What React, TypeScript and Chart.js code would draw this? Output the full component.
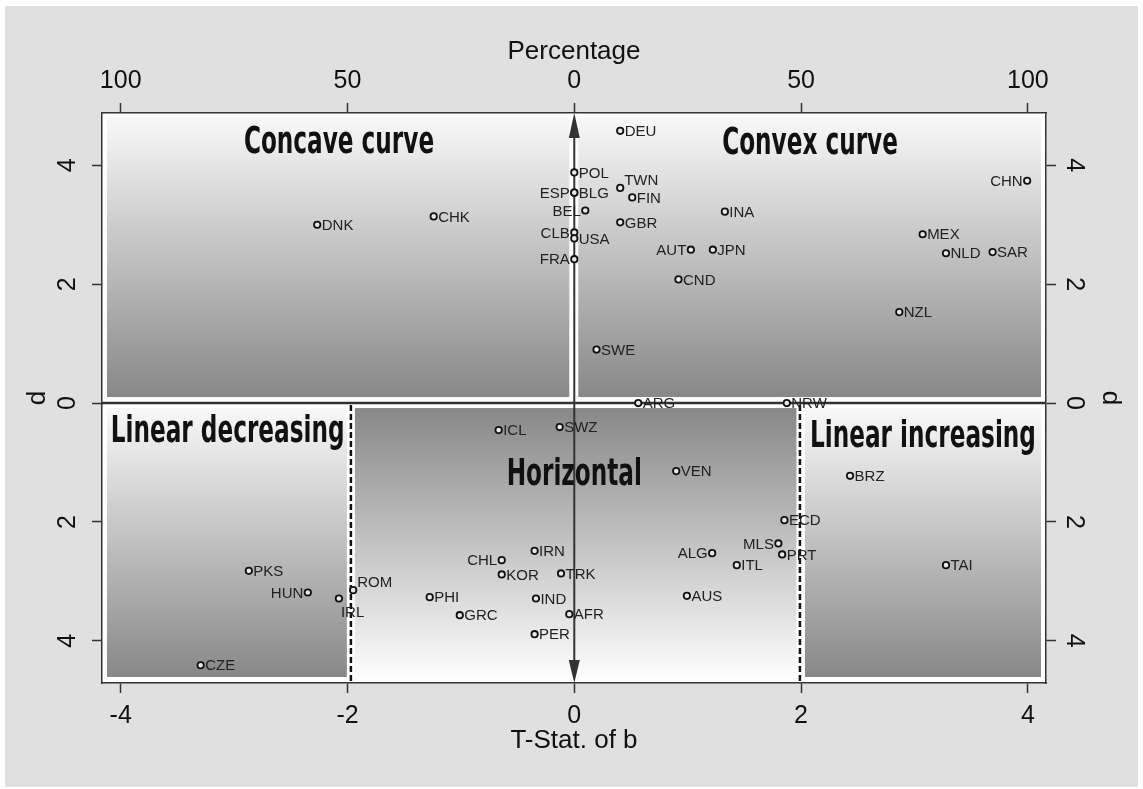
import React, { useEffect, useRef } from 'react';
import { Chart, registerables } from 'chart.js';

Chart.register(...registerables);

// ---------------- DATA ----------------
const countries = [
  'DEU', 'POL', 'ESP', 'BLG', 'TWN', 'FIN', 'BEL', 'GBR', 'INA', 'DNK',
  'CHK', 'CLB', 'USA', 'FRA', 'AUT', 'JPN', 'CND', 'SWE', 'CHN', 'MEX',
  'NLD', 'SAR', 'NZL', 'ARG', 'NRW', 'ICL', 'SWZ', 'VEN', 'BRZ', 'ECD',
  'MLS', 'ALG', 'PRT', 'ITL', 'TAI', 'IRN', 'CHL', 'KOR', 'TRK', 'PKS',
  'ROM', 'HUN', 'IRL', 'PHI', 'IND', 'GRC', 'AFR', 'AUS', 'PER', 'CZE',
];
const tStat = [
  0.405, 0.0, 0.0, 0.0, 0.405, 0.511, 0.097, 0.405, 1.328, -2.267,
  -1.24, 0.0, 0.0, 0.0, 1.028, 1.222, 0.919, 0.196, 3.994, 3.072,
  3.278, 3.689, 2.866, 0.564, 1.874, -0.667, -0.129, 0.899, 2.432, 1.853,
  1.8, 1.216, 1.833, 1.433, 3.278, -0.35, -0.64, -0.64, -0.117, -2.87,
  -1.95, -2.35, -2.076, -1.275, -0.338, -1.01, -0.044, 0.993, -0.35, -3.295,
];
const dValue = [
  4.58, 3.88, 3.54, 3.54, 3.62, 3.46, 3.24, 3.04, 3.22, 3.0,
  3.14, 2.87, 2.77, 2.42, 2.58, 2.58, 2.08, 0.9, 3.74, 2.84,
  2.52, 2.54, 1.53, 0.0, 0.0, -0.455, -0.404, -1.145, -1.224, -1.97,
  -2.362, -2.525, -2.547, -2.727, -2.727, -2.487, -2.643, -2.884, -2.867, -2.823,
  -3.148, -3.187, -3.288, -3.266, -3.288, -3.569, -3.552, -3.244, -3.889, -4.411,
];

const xTicks = [-4, -2, 0, 2, 4];
const bottomTickLabels = ['-4', '-2', '0', '2', '4'];
const topTickLabels = ['100', '50', '0', '50', '100'];
const yTicks = [-4, -2, 0, 2, 4];
const yTickLabels = ['4', '2', '0', '2', '4'];

const xRange = [-4.165, 4.16];
const yRange = [-4.71, 4.88];

// thresholds (dashed lines)
const dashedX = [-1.97, 1.99];

const regionTitles = ['Concave curve', 'Convex curve', 'Linear decreasing', 'Horizontal', 'Linear increasing'];
const regionTitleX = [-2.075, 2.079, -3.057, 0.0, 3.075];
const regionTitleY = [4.21, 4.19, -0.657, -1.38, -0.736];

// label placement (default: right of point)
const labelSide: Record<string, string> = {
  ESP: 'left', BEL: 'left', CLB: 'left', FRA: 'left', AUT: 'left', CHN: 'left',
  HUN: 'left', ALG: 'left', MLS: 'left', CHL: 'left',
  TWN: 'upRight', ROM: 'upRight', IRL: 'below',
};

const FONT = "'Liberation Sans', Arial, sans-serif";
const TITLE_FONT = "'DejaVu Sans', sans-serif";

const decorPlugin = {
  id: 'decor',
  beforeDraw(chart: any) {
    const ctx = chart.ctx;
    const a = chart.chartArea;
    ctx.save();
    ctx.fillStyle = '#e0e0e0';
    ctx.fillRect(5, 6, 1133, 781);
    ctx.fillStyle = '#ffffff';
    ctx.fillRect(a.left, a.top, a.right - a.left, a.bottom - a.top);
    ctx.restore();
  },
  beforeDatasetsDraw(chart: any) {
    const ctx = chart.ctx;
    const a = chart.chartArea;
    const xs = chart.scales.x;
    const ys = chart.scales.y;
    const x0 = xs.getPixelForValue(0);
    const y0 = ys.getPixelForValue(0);
    const xl = xs.getPixelForValue(dashedX[0]);
    const xr = xs.getPixelForValue(dashedX[1]);
    const top = a.top + 4;
    const bottom = a.bottom - 6;
    const left = a.left + 5;
    const right = a.right - 5;
    ctx.save();
    const rect = (l: number, t: number, r: number, b: number, c1: string, c2: string) => {
      const g = ctx.createLinearGradient(0, t, 0, b);
      g.addColorStop(0, c1);
      g.addColorStop(1, c2);
      ctx.fillStyle = g;
      ctx.fillRect(l, t, r - l, b - t);
    };
    const light = '#f8f8f8';
    const dark = '#888888';
    rect(left, top, x0 - 5, y0 - 6, light, dark);
    rect(x0 + 4, top, right, y0 - 6, light, dark);
    rect(left, y0 + 5, xl - 4, bottom, light, dark);
    rect(xl + 4, y0 + 5, xr - 3.5, a.bottom - 1, dark, '#ffffff');
    rect(xr + 5, y0 + 5, right, bottom, light, dark);

    // horizontal zero line
    ctx.strokeStyle = '#333333';
    ctx.lineWidth = 2.5;
    ctx.beginPath();
    ctx.moveTo(a.left, y0);
    ctx.lineTo(a.right, y0);
    ctx.stroke();

    // dashed threshold lines
    ctx.strokeStyle = '#111111';
    ctx.lineWidth = 2.5;
    ctx.setLineDash([6, 3]);
    for (const dx of dashedX) {
      const px = xs.getPixelForValue(dx);
      ctx.beginPath();
      ctx.moveTo(px, y0 + 2);
      ctx.lineTo(px, a.bottom);
      ctx.stroke();
    }
    ctx.setLineDash([]);

    // vertical double arrow
    ctx.strokeStyle = '#333333';
    ctx.fillStyle = '#333333';
    ctx.lineWidth = 2;
    ctx.beginPath();
    ctx.moveTo(x0, a.top + 20);
    ctx.lineTo(x0, a.bottom - 20);
    ctx.stroke();
    ctx.beginPath();
    ctx.moveTo(x0, a.top);
    ctx.lineTo(x0 - 5.5, a.top + 25);
    ctx.lineTo(x0 + 5.5, a.top + 25);
    ctx.closePath();
    ctx.fill();
    ctx.beginPath();
    ctx.moveTo(x0, a.bottom);
    ctx.lineTo(x0 - 5.5, a.bottom - 23);
    ctx.lineTo(x0 + 5.5, a.bottom - 23);
    ctx.closePath();
    ctx.fill();

    // region titles
    ctx.fillStyle = '#111111';
    ctx.font = `bold 38px ${TITLE_FONT}`;
    ctx.textAlign = 'center';
    ctx.textBaseline = 'alphabetic';
    regionTitles.forEach((t, i) => {
      const px = xs.getPixelForValue(regionTitleX[i]);
      const py = ys.getPixelForValue(regionTitleY[i]);
      ctx.save();
      ctx.translate(px, py);
      ctx.scale(0.61, 1);
      ctx.fillText(t, 0, 0);
      ctx.restore();
    });
    ctx.restore();
  },
  afterDatasetsDraw(chart: any) {
    const ctx = chart.ctx;
    const meta = chart.getDatasetMeta(0);
    ctx.save();
    ctx.font = `15px ${FONT}`;
    ctx.fillStyle = '#222222';
    ctx.textBaseline = 'middle';
    meta.data.forEach((pt: any, i: number) => {
      const name = countries[i];
      const side = labelSide[name] || 'right';
      const px = pt.x;
      const py = pt.y;
      if (side === 'left') {
        ctx.textAlign = 'right';
        ctx.fillText(name, px - 4.5, py + 1);
      } else if (side === 'upRight') {
        ctx.textAlign = 'left';
        ctx.fillText(name, px + 4, py - 7.5);
      } else if (side === 'below') {
        ctx.textAlign = 'left';
        ctx.fillText(name, px + 2, py + 14);
      } else {
        ctx.textAlign = 'left';
        ctx.fillText(name, px + 4.5, py + 1);
      }
    });
    ctx.restore();
  },
  afterDraw(chart: any) {
    const ctx = chart.ctx;
    const ys = chart.scales.y;
    ctx.save();
    ctx.font = `25px ${FONT}`;
    ctx.fillStyle = '#111111';
    ctx.textAlign = 'center';
    ctx.textBaseline = 'middle';
    yTicks.forEach((v, i) => {
      const py = ys.getPixelForValue(v);
      ctx.save();
      ctx.translate(68, py);
      ctx.rotate(-Math.PI / 2);
      ctx.fillText(yTickLabels[i], 0, 0);
      ctx.restore();
      ctx.save();
      ctx.translate(1074, py);
      ctx.rotate(Math.PI / 2);
      ctx.fillText(yTickLabels[i], 0, 0);
      ctx.restore();
    });
    ctx.restore();
  },
};

const gridOpts = {
  drawOnChartArea: false,
  drawTicks: true,
  tickLength: 10,
  tickColor: '#333333',
  tickWidth: 1.5,
};
const borderOpts = { display: true, color: '#333333', width: 1.5 };

export default function App() {
  const canvasRef = useRef<HTMLCanvasElement | null>(null);

  useEffect(() => {
    if (!canvasRef.current) return;
    const points = countries.map((c, i) => ({ x: tStat[i], y: dValue[i] }));
    const chart = new Chart(canvasRef.current, {
      type: 'scatter',
      data: {
        datasets: [
          {
            label: 'countries',
            data: points,
            pointRadius: 3.2,
            pointHoverRadius: 3.2,
            pointBorderWidth: 1.8,
            pointBorderColor: '#111111',
            pointBackgroundColor: '#e8e8e8',
            showLine: false,
          },
        ],
      },
      options: {
        animation: false,
        responsive: false,
        maintainAspectRatio: false,
        devicePixelRatio: 1,
        layout: { padding: 0 },
        plugins: {
          legend: { display: false },
          tooltip: { enabled: false },
        },
        scales: {
          x: {
            type: 'linear',
            position: 'bottom',
            min: xRange[0],
            max: xRange[1],
            afterBuildTicks: (s: any) => {
              s.ticks = xTicks.map((v) => ({ value: v }));
            },
            afterFit: (s: any) => {
              s.height = 106;
            },
            grid: gridOpts,
            border: borderOpts,
            ticks: {
              color: '#111111',
              font: { family: FONT, size: 25 },
              padding: 8.5,
              maxRotation: 0,
              autoSkip: false,
              callback: (_v: any, i: number) => bottomTickLabels[i],
            },
            title: {
              display: true,
              text: 'T-Stat. of b',
              color: '#111111',
              font: { family: FONT, size: 26 },
              padding: { top: 0, bottom: 33 },
            },
          },
          x2: {
            type: 'linear',
            position: 'top',
            min: xRange[0],
            max: xRange[1],
            afterBuildTicks: (s: any) => {
              s.ticks = xTicks.map((v) => ({ value: v }));
            },
            afterFit: (s: any) => {
              s.height = 113;
            },
            grid: gridOpts,
            border: borderOpts,
            ticks: {
              color: '#111111',
              font: { family: FONT, size: 25 },
              padding: 7,
              maxRotation: 0,
              autoSkip: false,
              callback: (_v: any, i: number) => topTickLabels[i],
            },
            title: {
              display: true,
              text: 'Percentage',
              color: '#111111',
              font: { family: FONT, size: 26 },
              padding: { top: 36, bottom: 0 },
            },
          },
          y: {
            type: 'linear',
            position: 'left',
            min: yRange[0],
            max: yRange[1],
            afterBuildTicks: (s: any) => {
              s.ticks = yTicks.map((v) => ({ value: v }));
            },
            afterFit: (s: any) => {
              s.width = 102;
            },
            grid: gridOpts,
            border: borderOpts,
            ticks: { display: false },
            title: {
              display: true,
              text: 'd',
              color: '#111111',
              font: { family: FONT, size: 26 },
              padding: { top: 22, bottom: 0 },
            },
          },
          y2: {
            type: 'linear',
            position: 'right',
            min: yRange[0],
            max: yRange[1],
            afterBuildTicks: (s: any) => {
              s.ticks = yTicks.map((v) => ({ value: v }));
            },
            afterFit: (s: any) => {
              s.width = 97;
            },
            grid: gridOpts,
            border: borderOpts,
            ticks: { display: false },
            title: {
              display: true,
              text: 'd',
              color: '#111111',
              font: { family: FONT, size: 26 },
              padding: { top: 17, bottom: 0 },
            },
          },
        },
      },
      plugins: [decorPlugin],
    } as any);
    return () => chart.destroy();
  }, []);

  return (
    <div style={{ position: 'fixed', left: 0, top: 0, width: 1143, height: 789, background: '#ffffff' }}>
      <canvas ref={canvasRef} width={1143} height={789} style={{ display: 'block' }} />
    </div>
  );
}
